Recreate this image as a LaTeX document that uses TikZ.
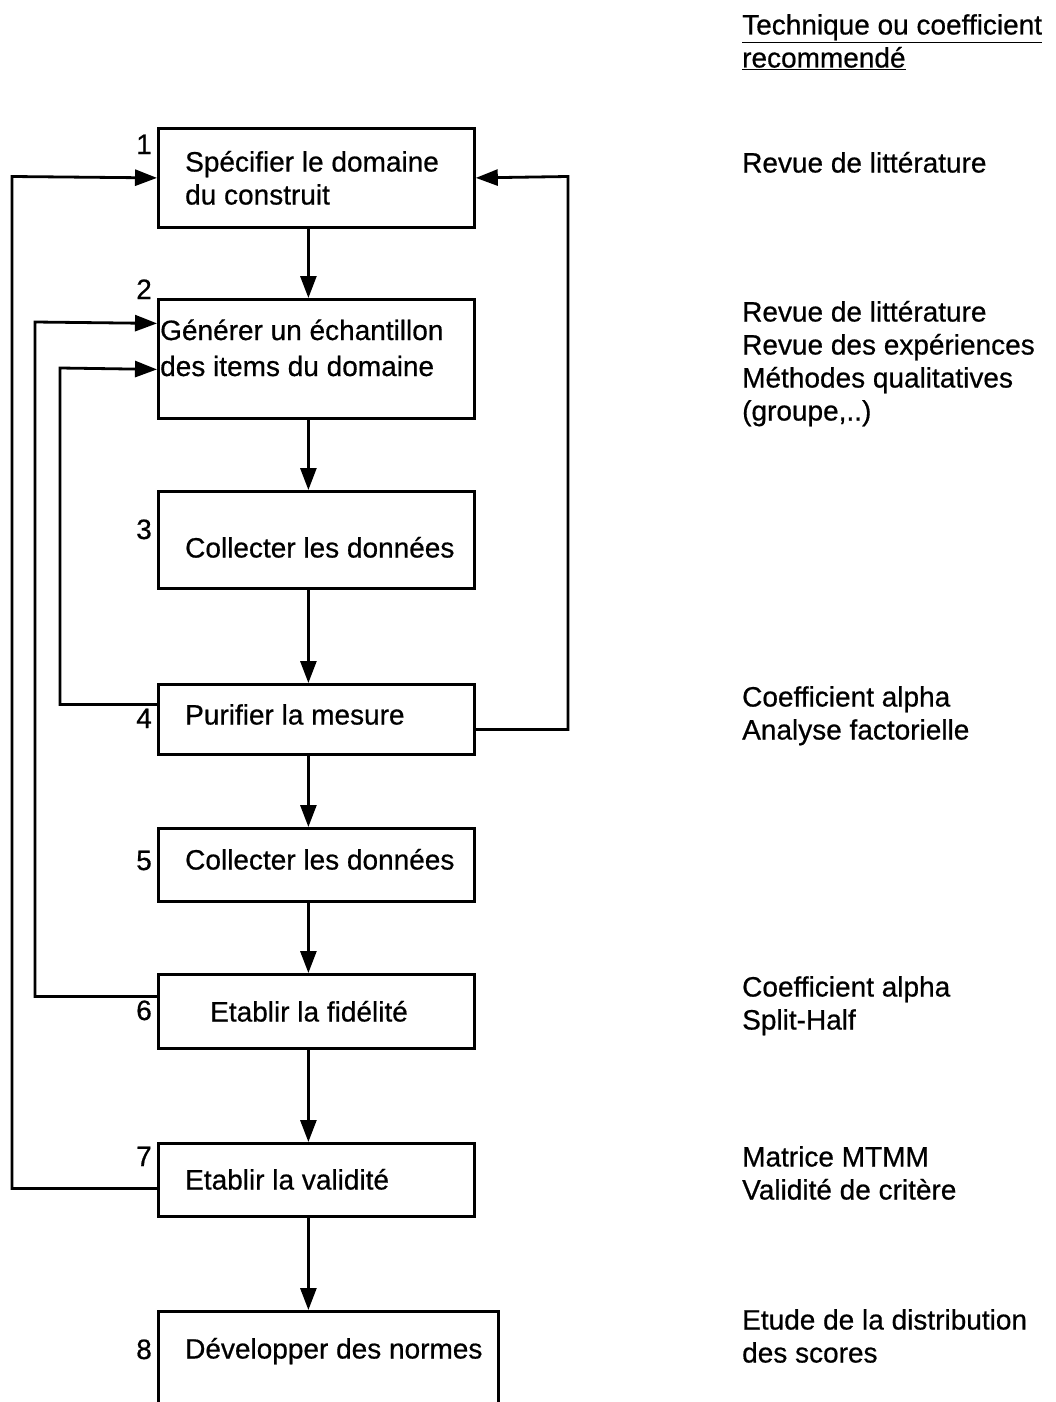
\documentclass[tikz,border=0pt]{standalone}
\usepackage{fontspec}
\setmainfont{Liberation Sans}
\newfontfamily\schemefont{Liberation Sans}[FakeBold=0.6]
\usepackage{xcolor}
\definecolor{inkBlack}{HTML}{000000}
\usepackage{tikz}
\usetikzlibrary{
    arrows.meta,
    positioning,
    calc
}
\tikzset{
    % Base font for every text of the scheme
    scheme base/.style={
        font=\schemefont\fontsize{28}{33}\selectfont,
        text=inkBlack,
        inner sep=0pt,
    },
    % Step boxes - plain rectangles, empty, text is put on top
    stepbox/.style={
        rectangle,
        draw=inkBlack,
        line width=2.8pt,
        minimum width=316pt,
        anchor=north west,
        inner sep=0pt,
    },
    % Text inside a step box (placed at the baseline of its last line)
    steptext/.style={
        scheme base,
        align=left,
        anchor=base west,
    },
    % Step number on the left of a box
    stepnum/.style={
        scheme base,
        anchor=base east,
    },
    % Right column - recommended technique
    technique/.style={
        scheme base,
        align=left,
        anchor=base west,
    },
    % Arrow with a filled triangle head
    arrow/.style={
        -{Triangle[length=22pt, width=16pt]},
        line width=2.8pt,
        draw=inkBlack,
    },
}

\begin{document}
\begin{tikzpicture}[x=1pt, y=-1pt]
    \clip (0,0) rectangle (1055,1402);

    % boxes
    \node (b1) [stepbox, minimum height=99pt] at (157,127) {};
    \node (b2) [stepbox, minimum height=119pt] at (157,298) {};
    \node (b3) [stepbox, minimum height=97pt] at (157,490) {};
    \node (b4) [stepbox, minimum height=70pt] at (157,683) {};
    \node (b5) [stepbox, minimum height=73pt] at (157,827) {};
    \node (b6) [stepbox, minimum height=74pt] at (157,973) {};
    \node (b7) [stepbox, minimum height=73pt] at (157,1142) {};
    \node (b8) [stepbox, minimum height=130pt, minimum width=340pt] at (157,1310) {};

    % texts of the boxes
    \node (t1) [steptext] at (185,204.5) {Spécifier le domaine\\du construit};
    \node (t2) [steptext, font=\schemefont\fontsize{28}{36}\selectfont] at (160,376) {Générer un échantillon\\des items du domaine};
    \node (t3) [steptext] at (185,557.5) {Collecter les données};
    \node (t4) [steptext] at (185,724.5) {Purifier la mesure};
    \node (t5) [steptext] at (185,869.5) {Collecter les données};
    \node (t6) [steptext] at (210,1021.5) {Etablir la fidélité};
    \node (t7) [steptext] at (185,1189.5) {Etablir la validité};
    \node (t8) [steptext] at (185,1358.5) {Développer des normes};

    % numbers
    \node (n1) [stepnum] at (152,154) {1};
    \node (n2) [stepnum] at (152,299) {2};
    \node (n3) [stepnum] at (152,539) {3};
    \node (n4) [stepnum] at (152,728) {4};
    \node (n5) [stepnum] at (152,870) {5};
    \node (n6) [stepnum] at (152,1020) {6};
    \node (n7) [stepnum] at (152,1166) {7};
    \node (n8) [stepnum] at (152,1359) {8};

    % right column
    \node (head) [technique] at (742,67.5) {\underline{Technique ou coefficient}\\\underline{recommendé}};
    \node (r1) [technique] at (742,172.5) {Revue de littérature};
    \node (r2) [technique] at (742,420.5) {Revue de littérature\\Revue des expériences\\Méthodes qualitatives\\(groupe,..)};
    \node (r4) [technique] at (742,739.5) {Coefficient alpha\\Analyse factorielle};
    \node (r6) [technique] at (742,1029.5) {Coefficient alpha\\Split-Half};
    \node (r7) [technique] at (742,1199.5) {Matrice MTMM\\Validité de critère};
    \node (r8) [technique] at (742,1362.5) {Etude de la distribution\\des scores};

    % main flow
    \draw [arrow] ([xshift=-8pt]b1.south) -- ([xshift=-8pt]b2.north);
    \draw [arrow] ([xshift=-8pt]b2.south) -- ([xshift=-8pt]b3.north);
    \draw [arrow] ([xshift=-8pt]b3.south) -- ([xshift=-8pt]b4.north);
    \draw [arrow] ([xshift=-8pt]b4.south) -- ([xshift=-8pt]b5.north);
    \draw [arrow] ([xshift=-8pt]b5.south) -- ([xshift=-8pt]b6.north);
    \draw [arrow] ([xshift=-8pt]b6.south) -- ([xshift=-8pt]b7.north);
    \draw [arrow] ([xshift=-8pt]b7.south) -- ([xshift=-8pt]b7.south |- b8.north);

    % feedback loops
    \draw [arrow] ([yshift=-8.5pt]b7.west) -| (12,176.5) -- (b1.west);
    \draw [arrow] ([yshift=15pt]b6.west) -| (35,322) -- ([yshift=35.5pt]b2.west);
    \draw [arrow] ([yshift=15pt]b4.west) -| (60,368) -- ([yshift=-10.5pt]b2.west);
    \draw [arrow] ([yshift=-10pt]b4.east) -| (568,176.5) -- (b1.east);
\end{tikzpicture}
\end{document}
